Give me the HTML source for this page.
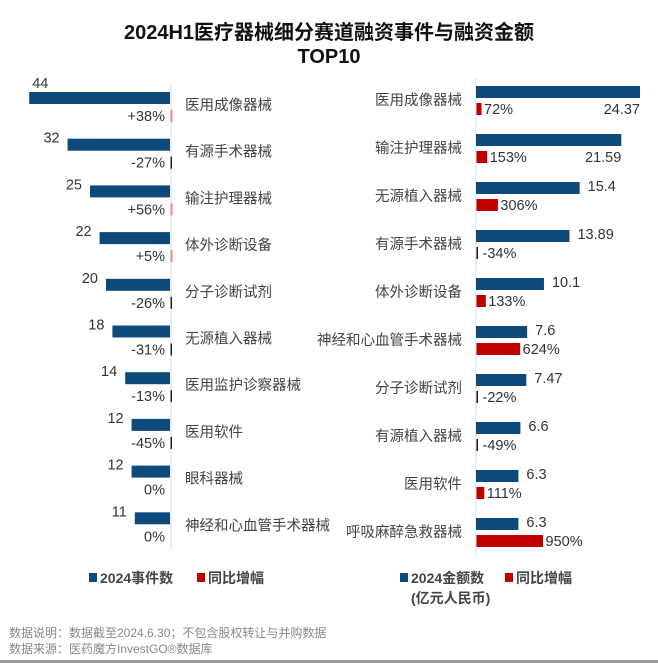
<!DOCTYPE html>
<html><head><meta charset="utf-8"><style>
body{margin:0;background:#fff;font-family:"Liberation Sans","Noto Sans CJK SC",sans-serif;}
#root{position:relative;width:658px;height:663px;overflow:hidden;background:#fff}
.t{position:absolute;white-space:nowrap;color:#333}
</style></head><body>
<div id="root">
<div class="t" style="left:0;width:658px;top:21px;text-align:center;font-size:20px;font-weight:bold;color:#111;line-height:24px">2024H1医疗器械细分赛道融资事件与融资金额<br>TOP10</div>
<svg id="svg" width="658" height="663" style="position:absolute;left:0;top:0"></svg>
<div class="t" style="left:9px;top:624px;font-size:12px;color:#888">数据说明：数据截至2024.6.30；不包含股权转让与并购数据</div>
<div class="t" style="left:9px;top:640px;font-size:12px;color:#888">数据来源：医药魔方InvestGO®数据库</div>
<div style="position:absolute;left:0;top:660px;width:658px;height:3px;background:#999"></div>
</div>
<script>
const leftCats=["医用成像器械","有源手术器械","输注护理器械","体外诊断设备","分子诊断试剂","无源植入器械","医用监护诊察器械","医用软件","眼科器械","神经和心血管手术器械"];
const leftCounts=[44,32,25,22,20,18,14,12,12,11];
const leftGrowth=[38,-27,56,5,-26,-31,-13,-45,0,0];
const rightCats=["医用成像器械","输注护理器械","无源植入器械","有源手术器械","体外诊断设备","神经和心血管手术器械","分子诊断试剂","有源植入器械","医用软件","呼吸麻醉急救器械"];
const rightAmounts=[24.37,21.59,15.4,13.89,10.1,7.6,7.47,6.6,6.3,6.3];
const rightGrowth=[72,153,306,-34,133,624,-22,-49,111,950];
const svg=document.getElementById('svg');const NS='http://www.w3.org/2000/svg';
function mk(tag,a,txt){const e=document.createElementNS(NS,tag);for(const k in a)e.setAttribute(k,a[k]);if(txt!==undefined)e.textContent=txt;svg.appendChild(e);return e;}
const BLUE='#0d4a7a',RED='#c00000';
const lx0=170,lk=3.2;
const lxScale=v=>lx0-v*lk;
const lyRow=i=>98+i*46.7;
let ax=mk('line',{x1:lx0+1,x2:lx0+1,y1:84,y2:550,stroke:'#ddd','stroke-width':1});

leftCats.forEach((c,i)=>{
 const y=lyRow(i);
 const bx=lxScale(leftCounts[i]);
 let r=mk('rect',{x:bx,y:y-6,width:lx0-bx,height:12,fill:BLUE});
 
 let t;
 if(bx<45) t=mk('text',{x:bx+3,y:y-10,'font-size':14.5,fill:'#333'},String(leftCounts[i]));
 else t=mk('text',{x:bx-8,y:y-2,'font-size':14.5,'text-anchor':'end',fill:'#333'},String(leftCounts[i]));
 
 const g=leftGrowth[i];
 if(g!==0){let gb=mk('rect',{x:lx0+0.5,y:y+12,width:g>0?2:1.5,height:12,fill:g>0?'#e88':'#222'});
  }
 let gt=mk('text',{x:lx0-5,y:y+23,'font-size':14.5,'text-anchor':'end',fill:'#333'},(g>0?'+':'')+g+'%');
 
 let ct=mk('text',{x:185,y:y+12,'font-size':14.5,fill:'#444'},c);
 
});
const rx0=476,rk=6.73,rg=0.07;
const rxScale=v=>rx0+v*rk;
const ryRow=i=>92+i*48;
let ax2=mk('line',{x1:rx0,x2:rx0,y1:78,y2:555,stroke:'#ddd','stroke-width':1});

rightCats.forEach((c,i)=>{
 const y=ryRow(i);const v=rightAmounts[i];
 let r=mk('rect',{x:rx0,y:y-6,width:rxScale(v)-rx0,height:12,fill:BLUE});
 
 let t;
 if(rxScale(v)>600) t=mk('text',{x:rxScale(v),y:y+22,'font-size':14.5,'text-anchor':'end',fill:'#333'},String(v));
 else t=mk('text',{x:rxScale(v)+8,y:y+3,'font-size':14.5,fill:'#333'},String(v));
 
 const g=rightGrowth[i];const gy=y+17;
 let gw=g>0?Math.max(4,g*rg):1.5;
 let gb=mk('rect',{x:rx0+0.5,y:gy-6,width:gw,height:12,fill:g>0?RED:'#222'});
 
 let gt=mk('text',{x:rx0+gw+(g>0?3:5),y:gy+5,'font-size':14.5,fill:'#333'},g+'%');
 
 let ct=mk('text',{x:462,y:y+13,'font-size':14.5,'text-anchor':'end',fill:'#444'},c);
 
});
function leg(x,y,col,txt,name){let r=mk('rect',{x:x,y:y-5,width:8,height:9,fill:col});
 let t=mk('text',{x:x+11,y:y+5,'font-size':14,'font-weight':'bold',fill:'#444'},txt);}
leg(89,578,BLUE,'2024事件数','legend-left-count');
leg(197,578,RED,'同比增幅','legend-left-growth');
leg(400,578,BLUE,'2024金额数','legend-right-amount');
leg(505,578,RED,'同比增幅','legend-right-growth');
let lt=mk('text',{x:411,y:603,'font-size':14,'font-weight':'bold',fill:'#444'},'(亿元人民币)');

</script>
</body></html>
